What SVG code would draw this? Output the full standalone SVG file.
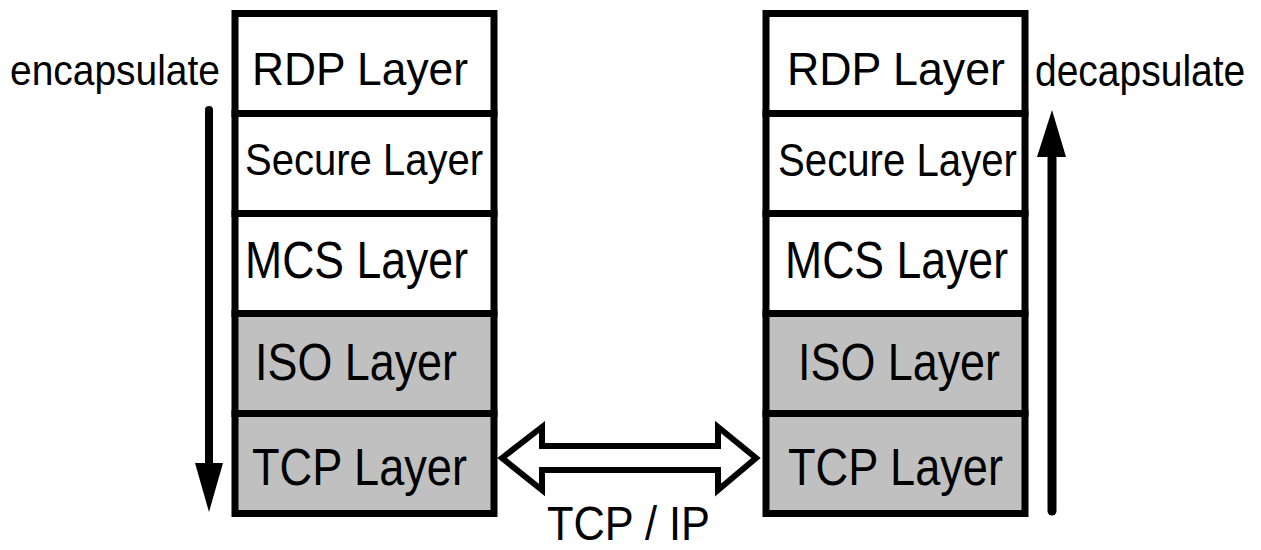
<svg xmlns="http://www.w3.org/2000/svg" width="1261" height="550" viewBox="0 0 1261 550">
  <style>
    .cell { stroke: #000; stroke-width: 7; }
    .light { fill: #fff; }
    .grey { fill: #c0c0c0; }
    .lbl { font-family: "Liberation Sans", Arial, sans-serif; fill: #000; }
  </style>
  <rect width="1261" height="550" fill="#fff"/>

  <!-- sender stack -->
  <g id="left-stack">
    <g id="l-rdp"><rect class="cell light" x="235" y="13.5" width="259" height="100"/>
      <text class="lbl" x="252" y="85" font-size="46" textLength="216" lengthAdjust="spacingAndGlyphs">RDP Layer</text></g>
    <g id="l-secure"><rect class="cell light" x="235" y="113.5" width="259" height="100"/>
      <text class="lbl" x="245" y="175" font-size="45" textLength="238" lengthAdjust="spacingAndGlyphs">Secure Layer</text></g>
    <g id="l-mcs"><rect class="cell light" x="235" y="213.5" width="259" height="100"/>
      <text class="lbl" x="245" y="278" font-size="51" textLength="223" lengthAdjust="spacingAndGlyphs">MCS Layer</text></g>
    <g id="l-iso"><rect class="cell grey" x="235" y="313.5" width="259" height="100"/>
      <text class="lbl" x="255" y="380" font-size="51" textLength="202" lengthAdjust="spacingAndGlyphs">ISO Layer</text></g>
    <g id="l-tcp"><rect class="cell grey" x="235" y="413.5" width="259" height="100"/>
      <text class="lbl" x="252" y="485" font-size="51" textLength="215" lengthAdjust="spacingAndGlyphs">TCP Layer</text></g>
  </g>

  <!-- receiver stack -->
  <g id="right-stack">
    <g id="r-rdp"><rect class="cell light" x="766" y="13.5" width="259" height="100"/>
      <text class="lbl" x="787" y="85" font-size="47" textLength="218" lengthAdjust="spacingAndGlyphs">RDP Layer</text></g>
    <g id="r-secure"><rect class="cell light" x="766" y="113.5" width="259" height="100"/>
      <text class="lbl" x="778" y="176" font-size="47" textLength="239" lengthAdjust="spacingAndGlyphs">Secure Layer</text></g>
    <g id="r-mcs"><rect class="cell light" x="766" y="213.5" width="259" height="100"/>
      <text class="lbl" x="785" y="278" font-size="51" textLength="223" lengthAdjust="spacingAndGlyphs">MCS Layer</text></g>
    <g id="r-iso"><rect class="cell grey" x="766" y="313.5" width="259" height="100"/>
      <text class="lbl" x="798" y="380" font-size="51" textLength="202" lengthAdjust="spacingAndGlyphs">ISO Layer</text></g>
    <g id="r-tcp"><rect class="cell grey" x="766" y="413.5" width="259" height="100"/>
      <text class="lbl" x="788" y="485" font-size="51" textLength="215" lengthAdjust="spacingAndGlyphs">TCP Layer</text></g>
  </g>

  <!-- direction labels -->
  <g id="encapsulate-label">
    <text class="lbl" x="10" y="85" font-size="42" textLength="210" lengthAdjust="spacingAndGlyphs">encapsulate</text>
  </g>
  <g id="decapsulate-label">
    <!-- slightly tall lettering: narrow face stretched vertically -->
    <text class="lbl" transform="translate(1035,86) scale(1,1.15)" x="0" y="0" font-size="39">decapsulate</text>
  </g>
  <g id="tcpip-label">
    <text class="lbl" x="547" y="540" font-size="49" textLength="163" lengthAdjust="spacingAndGlyphs">TCP / IP</text>
  </g>

  <!-- connectors -->
  <g id="connectors">
    <!-- encapsulate: downward -->
    <line x1="209" y1="110" x2="209" y2="466" stroke="#000" stroke-width="8" stroke-linecap="round"/>
    <polygon points="195,463 223,463 209,512" fill="#000"/>
    <!-- decapsulate: upward -->
    <line x1="1052" y1="154" x2="1052" y2="511" stroke="#000" stroke-width="9" stroke-linecap="round"/>
    <polygon points="1037,157 1066,157 1052,110" fill="#000"/>
    <!-- TCP/IP hollow double arrow -->
    <polygon points="502,458 542,427 542,446 718,446 718,427 756,458 718,490 718,470 542,470 542,490"
             fill="#fff" stroke="#000" stroke-width="6" stroke-linejoin="miter"/>
  </g>
</svg>
